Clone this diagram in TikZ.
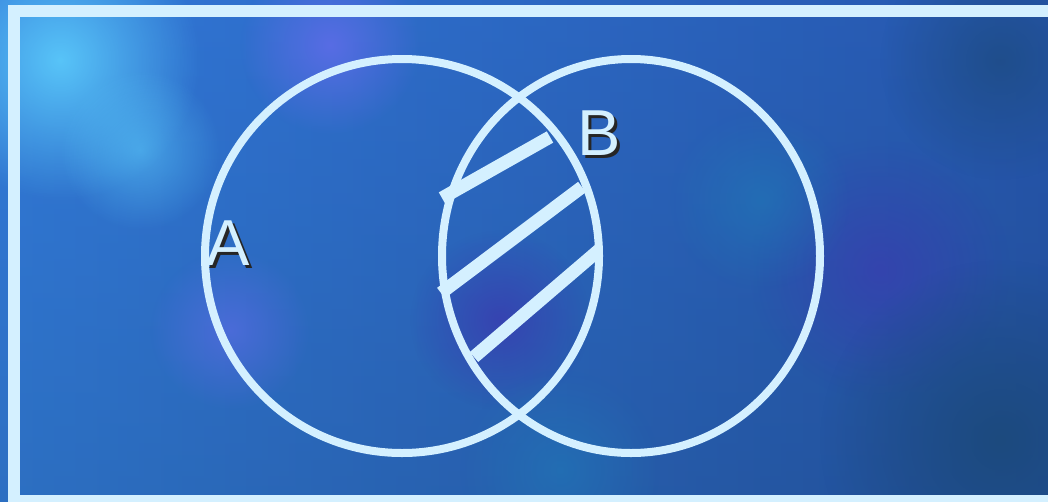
\documentclass[tikz,border=0pt]{standalone}
\usepackage{fontspec}
\setmainfont{Liberation Sans}
\usetikzlibrary{shapes.geometric,fadings}
\definecolor{VennLine}{HTML}{D4F0FF}
\definecolor{BgLeft}{HTML}{3480E0}
\definecolor{BgMid}{HTML}{2C68C8}
\definecolor{BgRight}{HTML}{244FA2}
\definecolor{BgCyan}{HTML}{5FD2FF}
\definecolor{BgViolet}{HTML}{6A6CF0}
\definecolor{BgIndigo}{HTML}{3A3CB0}
\definecolor{BgDeep}{HTML}{1C4A7E}
\definecolor{BgTeal}{HTML}{2078B8}
\tikzfading[name=blob,inner color=transparent!0,outer color=transparent!100]
\newcommand{\shadowlabel}[1]{\makebox[0pt][l]{\hspace{3pt}\raisebox{-3pt}{\textcolor{black!85}{#1}}}#1}

\begin{document}
\begin{tikzpicture}[x=1pt,y=-1pt,
    venn/.style={ellipse,draw=VennLine,line width=8pt,inner sep=0pt,minimum height=394pt},
    hatch/.style={draw=VennLine,line width=13pt,line cap=butt},
    setlabel/.style={text=VennLine,font=\fontsize{65}{65}\selectfont,inner sep=0pt,anchor=base west},
    frame/.style={draw=VennLine,line width=12pt}
  ]
    \useasboundingbox (0,0) rectangle (1048,501);
    \clip (0,0) rectangle (1048,501);
    % mottled backdrop
    \shade[left color=BgLeft,middle color=BgMid,right color=BgRight] (0,0) rectangle (1048,501);
    \shade[top color=BgMid,bottom color=BgDeep,opacity=0.3] (0,0) rectangle (1048,501);
    \fill[BgCyan,path fading=blob,opacity=0.85] (60,60) circle (140pt);
    \fill[BgCyan,path fading=blob,opacity=0.5] (140,150) circle (80pt);
    \fill[BgViolet,path fading=blob,opacity=0.7] (330,45) circle (90pt);
    \fill[BgViolet,path fading=blob,opacity=0.5] (230,330) circle (80pt);
    \fill[BgIndigo,path fading=blob,opacity=0.8] (500,320) circle (90pt);
    \fill[BgIndigo,path fading=blob,opacity=0.7] (880,270) circle (130pt);
    \fill[BgTeal,path fading=blob,opacity=0.6] (760,200) circle (90pt);
    \fill[BgTeal,path fading=blob,opacity=0.6] (560,470) circle (100pt);
    \fill[BgDeep,path fading=blob] (1000,440) circle (180pt);
    \fill[BgDeep,path fading=blob,opacity=0.7] (1000,60) circle (120pt);
    \draw[frame] (14,11) rectangle (1070,501);
    % the two sets
    \node[venn,minimum width=394pt] (setA) at (402,256) {};
    \node[venn,minimum width=378pt] (setB) at (631,256) {};
    % the common part
    \draw[hatch] (442,198) -- (550,137);
    \draw[hatch] (441,293) -- (582,187);
    \draw[hatch] (474,357) -- (599,250);
    \node[setlabel] (labelA) at (206,265) {\shadowlabel{A}};
    \node[setlabel] (labelB) at (577,155) {\shadowlabel{B}};
  \end{tikzpicture}
\end{document}
